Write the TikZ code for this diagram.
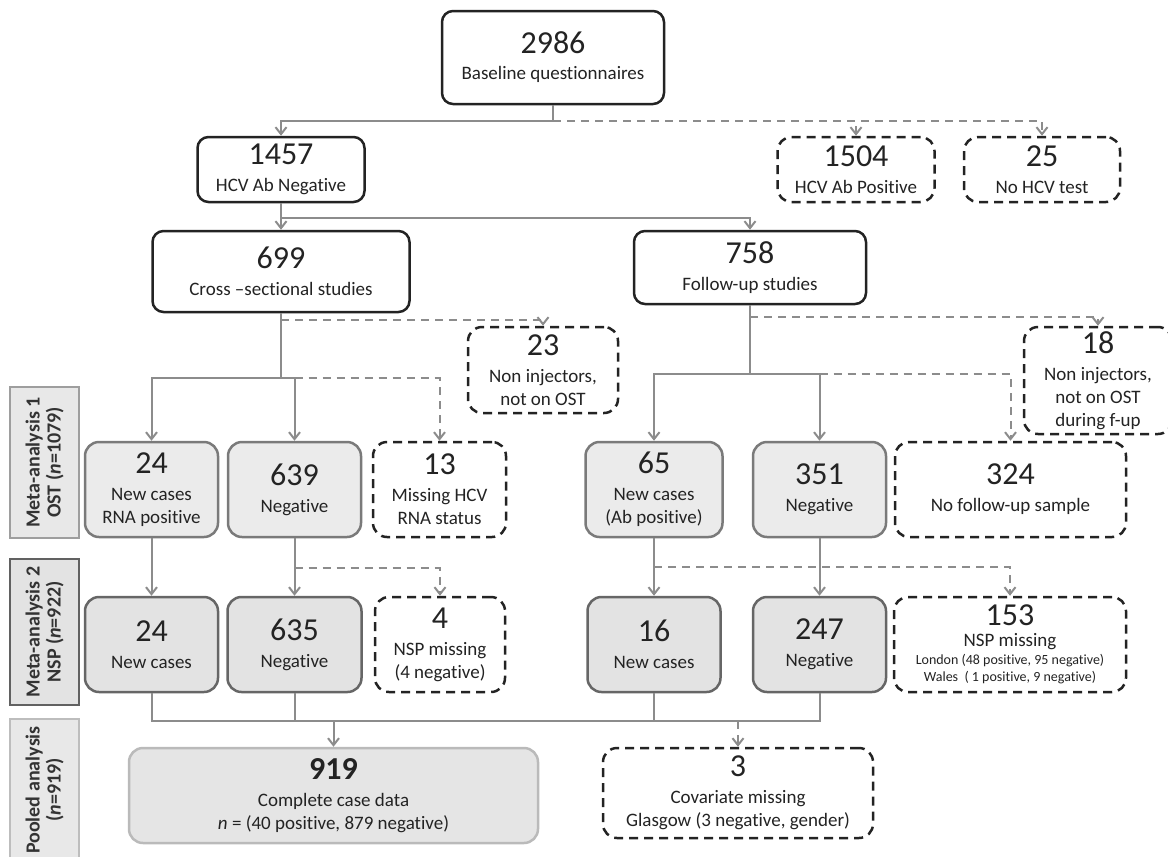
\documentclass[tikz,border=0pt]{standalone}
\usepackage{fontspec}
\setmainfont{Carlito}[Ligatures={TeX,NoCommon}]
\usetikzlibrary{arrows.meta}

\definecolor{linegray}{HTML}{8C8C8C}
\definecolor{inkgray}{HTML}{232323}
\newcommand{\bignum}[1]{{\fontsize{32}{32}\selectfont #1}}

\begin{document}
\begin{tikzpicture}[x=1pt,y=1pt,
		font=\fontsize{19}{23}\selectfont,
		mainbox/.style={draw=inkgray, line width=2.5, rounded corners=11, fill=white, align=center, inner sep=0, text=inkgray},
		dashbox/.style={mainbox, dash pattern=on 9 off 6, rounded corners=14},
		greybox/.style={mainbox, draw=black!52, fill=black!8, rounded corners=14},
		darkbox/.style={greybox, draw=black!60, fill=black!11},
		poolbox/.style={greybox, draw=black!27, fill=black!10},
		sidebox/.style={draw, line width=2.5, fill=black!9, rotate=90, minimum height=69, inner sep=0, align=center, font=\fontsize{20}{21}\selectfont\bfseries, text=black!80},
		conn/.style={draw=linegray, line width=2},
		dconn/.style={conn, dash pattern=on 8 off 6},
		arr/.style={-{Straight Barb[length=7,width=11]}}]
	\useasboundingbox (0,0) rectangle (1168,-857);

	\node[sidebox, draw=black!38, minimum width=151] (side1) at (44.5,-462.5) {Meta-analysis 1\\OST (\textit{n}=1079)};
	\node[sidebox, draw=black!62, fill=black!11, minimum width=146] (side2) at (44.5,-632) {Meta-analysis 2\\NSP (\textit{n}=922)};
	\node[sidebox, draw=black!26, minimum width=142] (side3) at (44.5,-790) {Pooled analysis\\(\textit{n}=919)};

	\node[mainbox, minimum width=222, minimum height=93] (base) at (553,-57.5) {\bignum{2986}\\[3pt]Baseline questionnaires};
	\node[mainbox, minimum width=167, minimum height=65] (hcvneg) at (281,-169.5) {\bignum{1457}\\[4pt]HCV Ab Negative};
	\draw[conn,arr] (base.south) -- ++(0,-16) -| (hcvneg.north);
	\node[dashbox, minimum width=157, minimum height=65] (hcvpos) at (856,-169.5) {\bignum{1504}\\[4pt]HCV Ab Positive};
	\node[dashbox, minimum width=156, minimum height=65] (notest) at (1042,-169.5) {\bignum{25}\\[4pt]No HCV test};
	\draw[dconn,arr] ([yshift=-16]base.south) -| (hcvpos.north);
	\draw[dconn,arr] ([yshift=-16]base.south) -| (notest.north);

	\node[mainbox, minimum width=257, minimum height=81] (cross) at (281,-271.5) {\bignum{699}\\[4pt]Cross --sectional studies};
	\node[mainbox, minimum width=232, minimum height=73] (follow) at (750,-267.5) {\bignum{758}\\[4pt]Follow-up studies};
	\draw[conn,arr] (hcvneg.south) -- ++(0,-15) -| (cross.north);
	\draw[conn,arr] (hcvneg.south) -- ++(0,-15) -| (follow.north);

	\node[greybox, minimum width=133, minimum height=95] (new1a) at (151.5,-489.5) {\bignum{24}\\[4pt]New cases\\RNA positive};
	\node[greybox, minimum width=133, minimum height=95] (neg1a) at (294.5,-489.5) {\bignum{639}\\[4pt]Negative};
	\node[dashbox, minimum width=133, minimum height=95] (miss1a) at (439.5,-489.5) {\bignum{13}\\[4pt]Missing HCV\\RNA status};
	\node[dashbox, minimum width=150, minimum height=86] (nonin1) at (543,-370) {\bignum{23}\\[4pt]Non injectors,\\not on OST};
	\coordinate (csplit) at ([yshift=-65]cross.south);
	\draw[conn,arr] (cross.south) -- (csplit) -| (new1a.north);
	\draw[conn,arr] (csplit) -| (neg1a.north);
	\draw[dconn,arr] ([yshift=-7]cross.south) -| (nonin1.north);
	\draw[dconn,arr] (csplit -| neg1a.north) -| (miss1a.north);

	\node[greybox, minimum width=137, minimum height=95] (new1b) at (654,-489.5) {\bignum{65}\\[4pt]New cases\\(Ab positive)};
	\node[greybox, minimum width=133, minimum height=95] (neg1b) at (819.5,-489.5) {\bignum{351}\\[4pt]Negative};
	\node[dashbox, minimum width=231, minimum height=95] (nofu) at (1010.5,-489.5) {\bignum{324}\\[4pt]No follow-up sample};
	\node[dashbox, minimum width=148, minimum height=107] (nonin2) at (1098,-380.5) {\bignum{18}\\[4pt]Non injectors,\\not on OST\\during f-up};
	\coordinate (fsplit) at ([yshift=-69]follow.south);
	\draw[conn,arr] (follow.south) -- (fsplit) -| (new1b.north);
	\draw[conn,arr] (fsplit) -| (neg1b.north);
	\draw[dconn,arr] ([yshift=-12]follow.south) -| (nonin2.north);
	\draw[dconn,arr] (fsplit -| neg1b.north) -| (nofu.north);

	\node[darkbox, minimum width=133, minimum height=95] (new2a) at (151.5,-644.5) {\bignum{24}\\[4pt]New cases};
	\node[darkbox, minimum width=134, minimum height=95] (neg2a) at (294.5,-644.5) {\bignum{635}\\[4pt]Negative};
	\node[dashbox, minimum width=130, minimum height=95] (nsp2a) at (440,-644.5) {\bignum{4}\\[4pt]NSP missing\\(4 negative)};
	\draw[conn,arr] (new1a.south) -- (new2a.north);
	\draw[conn,arr] (neg1a.south) -- (neg2a.north);
	\draw[dconn,arr] ([yshift=-30]neg1a.south) -| (nsp2a.north);

	\node[darkbox, minimum width=133, minimum height=95] (new2b) at (654,-644.5) {\bignum{16}\\[4pt]New cases};
	\node[darkbox, minimum width=133, minimum height=95] (neg2b) at (819.5,-644.5) {\bignum{247}\\[4pt]Negative};
	\node[dashbox, minimum width=232, minimum height=95] (nsp2b) at (1010,-644.5) {\bignum{153}\\[-2pt]NSP missing\\[-5pt]{\fontsize{14}{16}\selectfont London (48 positive, 95 negative)}\\[-6pt]{\fontsize{14}{16}\selectfont Wales\ \ ( 1 positive, 9 negative)}};
	\draw[conn,arr] (new1b.south) -- (new2b.north);
	\draw[conn,arr] (neg1b.south) -- (neg2b.north);
	\draw[dconn,arr] ([yshift=-29]new1b.south) -| (nsp2b.north);

	\node[poolbox, minimum width=409, minimum height=95] (pooled) at (333.5,-795.5) {{\bfseries\bignum{919}}\\[4pt]Complete case data\\\textit{n} = (40 positive, 879 negative)};
	\node[dashbox, minimum width=270, minimum height=90] (covmiss) at (738,-793) {\bignum{3}\\[4pt]Covariate missing\\Glasgow (3 negative, gender)};
	\coordinate (mg) at ([yshift=-28]new2a.south);
	\draw[conn] (new2a.south) -- (mg) -- (mg -| neg2b.south) -- (neg2b.south);
	\draw[conn] (neg2a.south) -- (neg2a.south |- mg);
	\draw[conn] (new2b.south) -- (new2b.south |- mg);
	\draw[conn,arr] (mg -| pooled.north) -- (pooled.north);
	\draw[dconn,arr] (mg -| covmiss.north) -- (covmiss.north);
\end{tikzpicture}
\end{document}
